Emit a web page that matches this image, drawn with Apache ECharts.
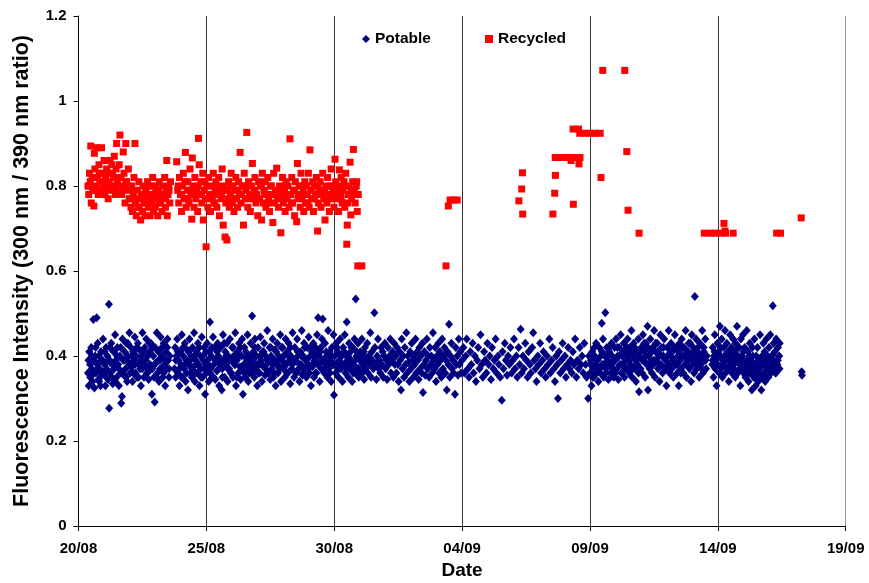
<!DOCTYPE html>
<html>
<head>
<meta charset="utf-8">
<script src="https://cdn.jsdelivr.net/npm/echarts@6/dist/echarts.min.js"></script>
<style>html,body{margin:0;padding:0;background:#fff}#c{width:869px;height:583px}</style>
</head>
<body>
<div id="c"></div>
<script>
// x values are days after 20/08; y values are the 300/390 nm fluorescence ratio
const dateLabels = ['20/08','25/08','30/08','04/09','09/09','14/09','19/09'];
const yTicks = [0,0.2,0.4,0.6,0.8,1,1.2];

const potableA = [[0.37,0.36],[0.40,0.33],[0.42,0.41],[0.45,0.38],[0.47,0.35],[0.50,0.42],[0.52,0.37],[0.55,0.34],[0.58,0.486],[0.60,0.39],[0.62,0.325],[0.65,0.40],[0.68,0.36],[0.71,0.49],[0.73,0.38],[0.75,0.43],[0.78,0.345],[0.80,0.40],[0.83,0.37],[0.86,0.33],[0.88,0.41],[0.91,0.355],[0.94,0.39],[0.96,0.44],[0.99,0.36],[1.02,0.38],[1.05,0.33],[1.08,0.42],[1.10,0.37],[1.13,0.40],[1.16,0.345],[1.19,0.522],[1.20,0.277],[1.22,0.39],[1.25,0.36],[1.28,0.43],[1.31,0.38],[1.34,0.335],[1.37,0.41],[1.40,0.37],[1.43,0.45],[1.46,0.39],[1.49,0.35],[1.52,0.42],[1.55,0.38],[1.58,0.33],[1.62,0.40],[1.65,0.36],[1.67,0.289],[1.70,0.305],[1.72,0.44],[1.75,0.39],[1.78,0.355],[1.81,0.41],[1.84,0.37],[1.87,0.43],[1.90,0.34],[1.93,0.40],[1.96,0.385],[1.99,0.455],[2.02,0.36],[2.05,0.42],[2.08,0.375],[2.11,0.34],[2.14,0.41],[2.17,0.39],[2.20,0.445],[2.23,0.36],[2.26,0.40],[2.29,0.35],[2.32,0.43],[2.35,0.38],[2.38,0.415],[2.41,0.37],[2.44,0.33],[2.47,0.40],[2.50,0.455],[2.53,0.385],[2.56,0.35],[2.59,0.42],[2.62,0.375],[2.65,0.44],[2.68,0.36],[2.71,0.40],[2.74,0.345],[2.77,0.41],[2.80,0.38],[2.83,0.43],[2.87,0.31],[2.89,0.37],[2.92,0.40],[2.95,0.35],[2.98,0.292],[3.00,0.42],[3.03,0.385],[3.06,0.455],[3.09,0.36],[3.12,0.41],[3.15,0.34],[3.18,0.39],[3.21,0.445],[3.24,0.37],[3.27,0.40],[3.30,0.35],[3.33,0.43],[3.36,0.38],[3.39,0.33],[3.42,0.41],[3.45,0.37],[3.48,0.44],[3.51,0.39],[3.54,0.35],[3.57,0.40]];

const potableB = [[3.75,0.37],[3.78,0.42],[3.80,0.35],[3.83,0.40],[3.86,0.44],[3.89,0.36],[3.92,0.39],[3.95,0.33],[3.98,0.41],[4.01,0.38],[4.04,0.45],[4.07,0.35],[4.10,0.40],[4.13,0.37],[4.16,0.43],[4.19,0.34],[4.22,0.39],[4.25,0.415],[4.28,0.32],[4.31,0.38],[4.34,0.44],[4.37,0.36],[4.40,0.40],[4.43,0.35],[4.46,0.42],[4.49,0.375],[4.52,0.455],[4.55,0.34],[4.58,0.39],[4.61,0.41],[4.64,0.36],[4.67,0.43],[4.70,0.38],[4.73,0.33],[4.76,0.40],[4.79,0.37],[4.82,0.445],[4.85,0.35],[4.88,0.39],[4.91,0.42],[4.95,0.31],[4.97,0.38],[5.00,0.36],[5.03,0.43],[5.06,0.39],[5.09,0.34],[5.12,0.41],[5.14,0.48],[5.17,0.37],[5.20,0.40],[5.23,0.35],[5.26,0.445],[5.29,0.38],[5.32,0.42],[5.35,0.345],[5.38,0.39],[5.41,0.365],[5.44,0.43],[5.47,0.40],[5.50,0.33],[5.53,0.38],[5.56,0.42],[5.60,0.32],[5.62,0.37],[5.65,0.45],[5.68,0.39],[5.71,0.35],[5.74,0.41],[5.77,0.38],[5.80,0.43],[5.83,0.34],[5.86,0.40],[5.89,0.37],[5.92,0.44],[5.95,0.36],[5.98,0.39],[6.01,0.42],[6.04,0.35],[6.07,0.40],[6.10,0.38],[6.13,0.455],[6.16,0.33],[6.19,0.39],[6.22,0.41],[6.25,0.36],[6.28,0.43],[6.31,0.375],[6.34,0.345],[6.37,0.40],[6.40,0.44],[6.43,0.31],[6.46,0.38],[6.49,0.42],[6.52,0.35],[6.55,0.395],[6.58,0.37],[6.61,0.45],[6.64,0.34],[6.67,0.40],[6.70,0.38],[6.73,0.43],[6.76,0.36],[6.79,0.494],[6.81,0.39],[6.84,0.41],[6.87,0.35],[6.90,0.44],[6.93,0.37],[6.96,0.40],[6.99,0.33],[7.02,0.42],[7.05,0.38],[7.08,0.36],[7.11,0.445],[7.14,0.39],[7.17,0.34],[7.20,0.41],[7.23,0.375],[7.26,0.43],[7.29,0.355],[7.32,0.40],[7.35,0.38],[7.38,0.46],[7.41,0.36],[7.44,0.39],[7.47,0.42],[7.50,0.345],[7.53,0.40],[7.56,0.37],[7.59,0.44],[7.62,0.35],[7.65,0.39],[7.68,0.415],[7.71,0.33],[7.74,0.38],[7.77,0.43],[7.80,0.36],[7.83,0.40],[7.86,0.375],[7.89,0.45],[7.92,0.34],[7.95,0.39],[7.98,0.42],[8.01,0.37],[8.04,0.40],[8.07,0.35],[8.10,0.44],[8.13,0.38],[8.16,0.41],[8.19,0.36],[8.22,0.43],[8.25,0.39],[8.28,0.335],[8.31,0.40],[8.34,0.37],[8.37,0.455],[8.40,0.385],[8.43,0.35],[8.46,0.42],[8.49,0.39],[8.52,0.36],[8.55,0.44],[8.58,0.40],[8.61,0.37],[8.64,0.34],[8.67,0.41],[8.70,0.38],[8.73,0.46],[8.76,0.355],[8.79,0.40],[8.82,0.43],[8.85,0.37],[8.88,0.39],[8.91,0.35],[8.94,0.42],[8.97,0.38],[9.00,0.445],[9.03,0.36],[9.06,0.40],[9.09,0.33],[9.12,0.41],[9.15,0.375],[9.18,0.43],[9.21,0.35],[9.24,0.39],[9.27,0.42],[9.30,0.36],[9.33,0.45],[9.36,0.38],[9.37,0.49],[9.40,0.40],[9.43,0.34],[9.46,0.41],[9.49,0.37],[9.52,0.44],[9.55,0.487],[9.58,0.39],[9.61,0.36],[9.64,0.43],[9.67,0.38],[9.70,0.40],[9.73,0.35],[9.76,0.46],[9.79,0.37],[9.82,0.41],[9.85,0.39],[9.88,0.34],[9.91,0.42],[9.94,0.38],[9.97,0.45],[9.99,0.308]];

const potableC = [[10.02,0.40],[10.05,0.36],[10.08,0.43],[10.11,0.38],[10.14,0.41],[10.17,0.35],[10.20,0.39],[10.23,0.44],[10.26,0.37],[10.29,0.40],[10.32,0.34],[10.35,0.42],[10.38,0.38],[10.41,0.45],[10.44,0.36],[10.47,0.40],[10.49,0.48],[10.52,0.39],[10.55,0.35],[10.58,0.43],[10.61,0.37],[10.64,0.41],[10.67,0.39],[10.70,0.34],[10.73,0.42],[10.76,0.38],[10.79,0.44],[10.82,0.36],[10.84,0.534],[10.87,0.40],[10.90,0.37],[10.93,0.43],[10.96,0.35],[10.99,0.39],[11.02,0.41],[11.05,0.365],[11.08,0.44],[11.11,0.38],[11.14,0.40],[11.17,0.345],[11.20,0.42],[11.23,0.37],[11.26,0.39],[11.29,0.43],[11.32,0.36],[11.35,0.40],[11.38,0.38],[11.41,0.455],[11.44,0.35],[11.47,0.41],[11.50,0.39],[11.53,0.37],[11.57,0.502],[11.59,0.42],[11.62,0.38],[11.65,0.345],[11.68,0.40],[11.71,0.44],[11.74,0.37],[11.77,0.39],[11.80,0.36],[11.83,0.42],[11.86,0.38],[11.89,0.41],[11.92,0.35],[11.95,0.40],[11.98,0.43],[12.01,0.37],[12.04,0.39],[12.07,0.345],[12.10,0.42],[12.13,0.38],[12.16,0.40],[12.19,0.44],[12.22,0.36],[12.25,0.39],[12.28,0.41],[12.31,0.35],[12.34,0.43],[12.37,0.38],[12.40,0.40],[12.43,0.36],[12.46,0.42],[12.49,0.38],[12.52,0.34],[12.55,0.41],[12.58,0.39],[12.61,0.32],[12.64,0.44],[12.67,0.37],[12.70,0.40],[12.73,0.35],[12.76,0.42],[12.79,0.38],[12.82,0.455],[12.85,0.36],[12.88,0.40],[12.91,0.385],[12.94,0.34],[12.97,0.41],[13.00,0.37],[13.03,0.43],[13.06,0.39],[13.09,0.35],[13.12,0.40],[13.15,0.38],[13.18,0.44],[13.21,0.36],[13.24,0.41],[13.27,0.39],[13.30,0.345],[13.33,0.42],[13.36,0.37],[13.39,0.40],[13.42,0.36],[13.45,0.43],[13.47,0.314],[13.50,0.38],[13.53,0.41],[13.56,0.355],[13.59,0.39],[13.62,0.44],[13.65,0.37],[13.68,0.40],[13.71,0.35],[13.74,0.42],[13.77,0.38],[13.80,0.40],[13.83,0.36],[13.86,0.455],[13.89,0.39],[13.92,0.37],[13.95,0.42],[13.98,0.34],[14.01,0.40],[14.04,0.38],[14.07,0.43],[14.10,0.36],[14.13,0.41],[14.16,0.39],[14.19,0.35],[14.22,0.44],[14.25,0.37],[14.28,0.40],[14.31,0.42],[14.34,0.36],[14.37,0.39],[14.40,0.32],[14.43,0.41],[14.46,0.38],[14.49,0.475],[14.52,0.35],[14.55,0.40],[14.58,0.43],[14.61,0.37],[14.64,0.39],[14.67,0.36],[14.72,0.31],[14.75,0.42],[14.78,0.38],[14.81,0.40],[14.84,0.355],[14.87,0.44],[14.90,0.38],[14.93,0.41],[14.96,0.36]];

const potableD = [[15.00,0.39],[15.05,0.42],[15.09,0.36],[15.14,0.40],[15.18,0.44],[15.23,0.37],[15.27,0.35],[15.32,0.41],[15.36,0.38],[15.41,0.43],[15.45,0.36],[15.50,0.40],[15.54,0.34],[15.59,0.39],[15.63,0.42],[15.68,0.37],[15.72,0.45],[15.77,0.38],[15.81,0.35],[15.86,0.41],[15.90,0.39],[15.95,0.36],[15.99,0.43],[16.04,0.38],[16.08,0.40],[16.13,0.345],[16.17,0.42],[16.22,0.37],[16.26,0.39],[16.31,0.44],[16.35,0.36],[16.40,0.40],[16.44,0.38],[16.49,0.35],[16.55,0.296],[16.58,0.41],[16.62,0.37],[16.67,0.43],[16.71,0.39],[16.76,0.355],[16.80,0.40],[16.85,0.38],[16.89,0.42],[16.94,0.36],[16.98,0.39],[17.03,0.44],[17.07,0.37],[17.12,0.40],[17.16,0.35],[17.21,0.42],[17.25,0.38],[17.29,0.463],[17.33,0.36],[17.38,0.40],[17.42,0.37],[17.47,0.43],[17.51,0.39],[17.56,0.35],[17.60,0.41],[17.65,0.38],[17.69,0.36],[17.74,0.42],[17.78,0.455],[17.82,0.39],[17.87,0.37],[17.91,0.34],[17.96,0.40],[18.00,0.38],[18.05,0.43],[18.09,0.36],[18.14,0.39],[18.18,0.41],[18.23,0.37],[18.27,0.35],[18.32,0.40],[18.36,0.38],[18.41,0.44],[18.45,0.36],[18.50,0.39],[18.54,0.42],[18.59,0.37],[18.63,0.34],[18.68,0.40],[18.72,0.38],[18.75,0.30],[18.79,0.41],[18.84,0.36],[18.88,0.39],[18.93,0.43],[18.97,0.37],[19.02,0.40],[19.06,0.35],[19.11,0.38],[19.15,0.42],[19.20,0.37],[19.24,0.39],[19.29,0.36],[19.33,0.41],[19.38,0.38],[19.42,0.44],[19.47,0.35],[19.51,0.39],[19.56,0.37],[19.60,0.42],[19.65,0.38],[19.69,0.40],[19.74,0.36],[19.78,0.43],[19.83,0.38],[19.87,0.35],[19.93,0.30],[19.96,0.40]];

const potableE = [[20.00,0.36],[20.03,0.39],[20.06,0.33],[20.09,0.41],[20.12,0.37],[20.15,0.35],[20.18,0.40],[20.21,0.38],[20.24,0.43],[20.27,0.36],[20.30,0.39],[20.33,0.34],[20.36,0.42],[20.39,0.37],[20.42,0.40],[20.46,0.477],[20.48,0.38],[20.51,0.44],[20.54,0.35],[20.58,0.40],[20.60,0.502],[20.63,0.37],[20.66,0.42],[20.69,0.39],[20.72,0.345],[20.75,0.41],[20.78,0.38],[20.81,0.36],[20.84,0.43],[20.87,0.40],[20.90,0.37],[20.93,0.35],[20.96,0.42],[20.99,0.39],[21.02,0.44],[21.05,0.37],[21.08,0.40],[21.11,0.345],[21.14,0.42],[21.17,0.38],[21.20,0.45],[21.23,0.36],[21.26,0.40],[21.29,0.38],[21.32,0.43],[21.35,0.35],[21.38,0.41],[21.41,0.39],[21.44,0.37],[21.47,0.44],[21.50,0.40],[21.53,0.36],[21.56,0.42],[21.59,0.38],[21.62,0.46],[21.65,0.35],[21.68,0.40],[21.71,0.43],[21.74,0.37],[21.77,0.39],[21.80,0.34],[21.83,0.41],[21.86,0.38],[21.89,0.44],[21.92,0.316],[21.95,0.40],[21.98,0.37],[22.01,0.42],[22.04,0.36],[22.07,0.45],[22.10,0.39],[22.13,0.41],[22.16,0.35],[22.19,0.43],[22.22,0.38],[22.25,0.47],[22.27,0.32],[22.30,0.40],[22.33,0.37],[22.36,0.44],[22.39,0.39],[22.42,0.36],[22.45,0.42],[22.48,0.38],[22.51,0.46],[22.54,0.35],[22.57,0.41],[22.60,0.39],[22.63,0.43],[22.66,0.37],[22.69,0.40],[22.72,0.34],[22.75,0.45],[22.78,0.38],[22.81,0.42],[22.84,0.36],[22.87,0.40],[22.90,0.44],[22.93,0.37],[22.96,0.39],[22.99,0.33],[23.02,0.42],[23.05,0.38],[23.08,0.46],[23.11,0.36],[23.14,0.40],[23.17,0.43],[23.20,0.37],[23.23,0.41],[23.26,0.35],[23.29,0.39],[23.32,0.45],[23.35,0.38],[23.38,0.42],[23.41,0.36],[23.44,0.40],[23.47,0.33],[23.50,0.43],[23.53,0.39],[23.56,0.37],[23.59,0.44],[23.62,0.40],[23.65,0.36],[23.68,0.42],[23.71,0.38],[23.74,0.46],[23.77,0.35],[23.80,0.41],[23.83,0.39],[23.86,0.43],[23.89,0.37],[23.92,0.40],[23.95,0.34],[23.98,0.45],[24.01,0.38],[24.04,0.42],[24.07,0.36],[24.10,0.54],[24.12,0.40],[24.15,0.44],[24.18,0.37],[24.21,0.41],[24.24,0.39],[24.27,0.35],[24.30,0.43],[24.33,0.38],[24.36,0.40],[24.39,0.46],[24.42,0.36],[24.45,0.42],[24.48,0.39],[24.51,0.44],[24.54,0.37],[24.57,0.40]];

const potableF = [[24.78,0.38],[24.80,0.42],[24.83,0.35],[24.85,0.40],[24.88,0.45],[24.90,0.37],[24.93,0.39],[24.95,0.33],[24.98,0.43],[25.00,0.38],[25.03,0.41],[25.05,0.36],[25.08,0.47],[25.10,0.40],[25.13,0.37],[25.15,0.44],[25.18,0.35],[25.20,0.39],[25.23,0.42],[25.25,0.38],[25.28,0.46],[25.30,0.36],[25.33,0.40],[25.35,0.43],[25.38,0.37],[25.40,0.41],[25.43,0.34],[25.45,0.39],[25.48,0.45],[25.50,0.38],[25.53,0.42],[25.55,0.36],[25.58,0.40],[25.60,0.44],[25.63,0.37],[25.65,0.41],[25.68,0.35],[25.70,0.43],[25.73,0.39],[25.75,0.47],[25.78,0.36],[25.80,0.40],[25.83,0.42],[25.85,0.38],[25.88,0.33],[25.90,0.44],[25.93,0.37],[25.95,0.40],[25.98,0.45],[26.00,0.36],[26.03,0.39],[26.05,0.42],[26.08,0.35],[26.10,0.38],[26.13,0.46],[26.15,0.37],[26.18,0.41],[26.20,0.34],[26.23,0.40],[26.25,0.43],[26.28,0.36],[26.30,0.39],[26.33,0.32],[26.35,0.42],[26.38,0.37],[26.40,0.35],[26.43,0.44],[26.45,0.38],[26.48,0.33],[26.50,0.40],[26.53,0.36],[26.55,0.42],[26.58,0.34],[26.60,0.39],[26.63,0.37],[26.65,0.45],[26.68,0.35],[26.70,0.32],[26.73,0.40],[26.75,0.38],[26.78,0.43],[26.80,0.36],[26.83,0.41],[26.85,0.34],[26.88,0.39],[26.90,0.44],[26.93,0.37],[26.95,0.40],[26.98,0.35],[27.00,0.42],[27.03,0.38],[27.05,0.45],[27.08,0.36],[27.10,0.40],[27.13,0.39],[27.15,0.518],[27.18,0.43],[27.20,0.37],[27.23,0.41],[27.25,0.36],[27.28,0.44],[27.30,0.39],[27.33,0.38],[27.35,0.42],[27.38,0.37],[27.40,0.40],[27.42,0.43],[28.28,0.363],[28.29,0.355]];

const potableG = [[0.39,0.39],[0.46,0.35],[0.53,0.40],[0.60,0.36],[0.67,0.42],[0.74,0.37],[0.81,0.34],[0.88,0.39],[0.95,0.36],[1.02,0.41],[1.09,0.35],[1.16,0.39],[1.23,0.42],[1.30,0.35],[1.37,0.38],[1.44,0.34],[1.51,0.40],[1.58,0.37],[1.65,0.42],[1.72,0.36],[1.79,0.39],[1.86,0.35],[1.93,0.43],[2.00,0.38],[2.07,0.40],[2.14,0.36],[2.21,0.38],[2.28,0.42],[2.35,0.35],[2.42,0.39],[2.49,0.37],[2.56,0.41],[2.63,0.39],[2.70,0.36],[2.77,0.43],[2.84,0.37],[2.91,0.42],[2.98,0.38],[3.05,0.35],[3.12,0.39],[3.19,0.37],[3.26,0.42],[3.33,0.36],[3.40,0.39],[3.47,0.42],[3.54,0.37]];

const potableH = [[3.81,0.39],[3.88,0.41],[3.95,0.37],[4.02,0.35],[4.09,0.42],[4.16,0.38],[4.23,0.36],[4.30,0.41],[4.37,0.39],[4.44,0.37],[4.51,0.40],[4.58,0.36],[4.65,0.38],[4.72,0.42],[4.79,0.35],[4.86,0.40],[4.93,0.37],[5.00,0.41],[5.07,0.38],[5.14,0.36],[5.21,0.42],[5.28,0.35],[5.35,0.39],[5.42,0.41],[5.49,0.37],[5.56,0.39],[5.63,0.35],[5.70,0.43],[5.77,0.40],[5.84,0.37],[5.91,0.39],[5.98,0.36],[6.05,0.42],[6.12,0.38],[6.19,0.35],[6.26,0.40],[6.33,0.42],[6.40,0.37],[6.47,0.36],[6.54,0.41],[6.61,0.39],[6.68,0.36],[6.75,0.40],[6.82,0.37],[6.89,0.42],[6.96,0.38],[7.03,0.36],[7.10,0.40],[7.17,0.38],[7.24,0.41],[7.31,0.37],[7.38,0.39],[7.45,0.36],[7.52,0.42],[7.59,0.38],[7.66,0.36],[7.73,0.41],[7.80,0.39],[7.87,0.37],[7.94,0.42],[8.01,0.40],[8.08,0.38],[8.15,0.36],[8.22,0.40],[8.29,0.42],[8.36,0.38],[8.43,0.39],[8.50,0.36],[8.57,0.41],[8.64,0.38],[8.71,0.40],[8.78,0.36],[8.85,0.42],[8.92,0.39],[8.99,0.37],[9.06,0.42],[9.13,0.38],[9.20,0.40],[9.27,0.36],[9.34,0.41],[9.41,0.38],[9.48,0.42],[9.55,0.39],[9.62,0.37],[9.69,0.41],[9.76,0.38],[9.83,0.36],[9.90,0.40],[9.97,0.38],[10.04,0.38],[10.11,0.42],[10.18,0.37],[10.25,0.40],[10.32,0.38],[10.39,0.41],[10.46,0.37],[10.53,0.40],[10.60,0.38],[10.67,0.42],[10.74,0.36],[10.81,0.39],[10.88,0.41],[10.95,0.37],[11.02,0.39],[11.09,0.36],[11.16,0.41],[11.23,0.39]];

const potableJ = [[20.02,0.38],[20.10,0.35],[20.17,0.42],[20.25,0.39],[20.32,0.37],[20.40,0.36],[20.47,0.41],[20.55,0.38],[20.62,0.36],[20.70,0.40],[20.77,0.42],[20.85,0.38],[20.92,0.39],[21.00,0.36],[21.07,0.42],[21.15,0.40],[21.22,0.38],[21.30,0.41],[21.37,0.37],[21.45,0.42],[21.52,0.39],[21.60,0.41],[21.67,0.37],[21.75,0.42],[21.82,0.39],[21.90,0.36],[21.97,0.41],[22.05,0.39],[22.12,0.43],[22.20,0.40],[22.27,0.42],[22.35,0.38],[22.42,0.41],[22.50,0.39],[22.57,0.43],[22.65,0.41],[22.72,0.38],[22.80,0.40],[22.87,0.42],[22.95,0.37],[23.02,0.40],[23.10,0.38],[23.17,0.41],[23.25,0.39],[23.32,0.42],[23.40,0.38],[23.47,0.41],[23.55,0.36],[23.62,0.42],[23.70,0.40],[23.77,0.38],[23.85,0.41],[23.92,0.43],[24.00,0.39],[24.07,0.41],[24.15,0.38],[24.22,0.42],[24.30,0.40],[24.37,0.37],[24.45,0.41],[24.52,0.39],[24.80,0.39],[24.87,0.41],[24.95,0.37],[25.02,0.40],[25.10,0.42],[25.17,0.38],[25.25,0.40],[25.32,0.39],[25.40,0.37],[25.47,0.41],[25.55,0.39],[25.62,0.38],[25.70,0.40],[25.77,0.42],[25.85,0.37],[25.92,0.39],[26.00,0.41],[26.07,0.37],[26.15,0.39],[26.22,0.36],[26.30,0.38],[26.37,0.40],[26.45,0.35],[26.52,0.38],[26.60,0.36],[26.67,0.39],[26.75,0.35],[26.82,0.38],[26.90,0.36],[26.97,0.39],[27.05,0.37],[27.12,0.40],[27.20,0.38],[27.27,0.36],[27.35,0.39],[27.41,0.37]];

const recycledA = [[0.37,0.80],[0.40,0.78],[0.43,0.83],[0.46,0.81],[0.48,0.894],[0.50,0.76],[0.53,0.82],[0.56,0.79],[0.60,0.753],[0.62,0.877],[0.64,0.84],[0.68,0.80],[0.71,0.89],[0.74,0.82],[0.77,0.78],[0.80,0.85],[0.83,0.81],[0.87,0.79],[0.90,0.89],[0.93,0.83],[0.96,0.80],[1.00,0.86],[1.03,0.78],[1.06,0.82],[1.10,0.84],[1.13,0.80],[1.16,0.77],[1.20,0.83],[1.23,0.86],[1.27,0.80],[1.30,0.85],[1.33,0.79],[1.37,0.82],[1.40,0.87],[1.44,0.78],[1.47,0.84],[1.49,0.90],[1.52,0.81],[1.56,0.79],[1.59,0.85],[1.62,0.92],[1.66,0.82],[1.69,0.78],[1.73,0.80],[1.75,0.88],[1.78,0.83],[1.82,0.76],[1.85,0.90],[1.88,0.81],[1.92,0.79],[1.95,0.84],[1.98,0.80]];

const recycledB = [[2.02,0.77],[2.05,0.75],[2.08,0.80],[2.11,0.74],[2.14,0.78],[2.17,0.82],[2.21,0.90],[2.23,0.76],[2.26,0.73],[2.30,0.79],[2.33,0.75],[2.36,0.81],[2.40,0.77],[2.43,0.72],[2.46,0.78],[2.50,0.74],[2.53,0.80],[2.56,0.76],[2.60,0.73],[2.63,0.79],[2.66,0.77],[2.70,0.81],[2.73,0.75],[2.76,0.78],[2.80,0.73],[2.83,0.80],[2.86,0.76],[2.90,0.82],[2.93,0.74],[2.96,0.78],[3.00,0.75],[3.03,0.80],[3.06,0.77],[3.10,0.73],[3.13,0.79],[3.16,0.81],[3.20,0.76],[3.23,0.78],[3.27,0.74],[3.30,0.80],[3.33,0.77],[3.37,0.82],[3.40,0.75],[3.43,0.79],[3.45,0.86],[3.47,0.73],[3.50,0.78],[3.53,0.80],[3.57,0.76],[3.60,0.81]];

const recycledC = [[3.84,0.857],[3.88,0.79],[3.92,0.76],[3.95,0.82],[3.99,0.78],[4.03,0.74],[4.06,0.80],[4.10,0.83],[4.13,0.77],[4.18,0.879],[4.21,0.75],[4.25,0.79],[4.28,0.81],[4.32,0.76],[4.36,0.84],[4.40,0.78],[4.43,0.722],[4.45,0.866],[4.48,0.80],[4.52,0.75],[4.55,0.82],[4.59,0.77],[4.62,0.79],[4.66,0.74],[4.69,0.912],[4.72,0.85],[4.75,0.78],[4.79,0.81],[4.82,0.76],[4.86,0.83],[4.88,0.72],[4.92,0.79],[4.96,0.77],[4.99,0.657],[5.02,0.80],[5.06,0.75],[5.09,0.82],[5.13,0.78],[5.16,0.74],[5.20,0.80],[5.23,0.77],[5.27,0.83],[5.30,0.76],[5.34,0.79],[5.37,0.81],[5.41,0.75],[5.44,0.78],[5.48,0.82],[5.51,0.73],[5.55,0.79],[5.58,0.77],[5.62,0.84],[5.66,0.708],[5.70,0.80],[5.73,0.68],[5.76,0.76],[5.80,0.673],[5.83,0.79],[5.87,0.81],[5.90,0.75],[5.94,0.78],[5.97,0.83],[6.01,0.76],[6.04,0.80],[6.08,0.74],[6.11,0.79],[6.15,0.82],[6.18,0.77],[6.22,0.75],[6.26,0.81],[6.29,0.78],[6.32,0.879],[6.36,0.76],[6.40,0.80],[6.45,0.708],[6.48,0.83],[6.52,0.77],[6.55,0.79],[6.58,0.926],[6.62,0.75],[6.65,0.81],[6.69,0.78],[6.72,0.74],[6.76,0.80],[6.80,0.853],[6.83,0.77],[6.87,0.79],[6.90,0.82],[6.94,0.76],[6.97,0.78],[7.01,0.73],[7.04,0.81],[7.08,0.77],[7.12,0.80],[7.16,0.72],[7.19,0.83],[7.23,0.76],[7.26,0.79],[7.30,0.81],[7.33,0.75],[7.37,0.78],[7.40,0.82],[7.44,0.77],[7.47,0.74],[7.51,0.80],[7.54,0.78],[7.60,0.714],[7.63,0.83],[7.66,0.76],[7.70,0.79],[7.75,0.842],[7.78,0.77],[7.82,0.75],[7.86,0.80],[7.91,0.69],[7.94,0.78],[7.98,0.82],[8.01,0.76],[8.05,0.79],[8.08,0.74],[8.12,0.81],[8.16,0.77],[8.19,0.80],[8.23,0.75],[8.27,0.911],[8.30,0.78],[8.34,0.82],[8.37,0.76],[8.41,0.79],[8.45,0.73],[8.48,0.81],[8.53,0.716],[8.56,0.853],[8.60,0.78],[8.63,0.80],[8.67,0.75],[8.70,0.83],[8.74,0.77],[8.78,0.79],[8.81,0.74],[8.85,0.81],[8.88,0.76],[8.92,0.80],[8.95,0.78],[8.99,0.83],[9.02,0.75],[9.05,0.885],[9.09,0.79],[9.12,0.77],[9.16,0.81],[9.19,0.74],[9.23,0.80],[9.27,0.78],[9.30,0.82],[9.35,0.694],[9.38,0.76],[9.41,0.79],[9.45,0.81],[9.48,0.75],[9.52,0.78],[9.55,0.83],[9.59,0.77],[9.64,0.72],[9.67,0.80],[9.71,0.76],[9.74,0.82],[9.78,0.78],[9.81,0.74],[9.85,0.80],[9.88,0.84],[9.92,0.77],[9.95,0.79],[9.99,0.75],[10.03,0.863],[10.06,0.81],[10.10,0.77],[10.13,0.80],[10.17,0.74],[10.20,0.838],[10.24,0.78],[10.27,0.82],[10.31,0.76],[10.34,0.79],[10.38,0.81],[10.41,0.75],[10.45,0.83],[10.49,0.663],[10.51,0.708],[10.54,0.78],[10.58,0.80],[10.62,0.856],[10.65,0.732],[10.68,0.77],[10.72,0.81],[10.75,0.886],[10.79,0.79],[10.82,0.76],[10.86,0.80],[10.90,0.74],[10.94,0.78],[10.92,0.612],[11.08,0.612]];

const recycledD = [[14.37,0.612],[14.46,0.753],[14.53,0.767],[14.67,0.767],[14.81,0.767],[17.22,0.765],[17.33,0.793],[17.36,0.831],[17.37,0.734],[18.55,0.734],[18.62,0.783],[18.65,0.825],[18.64,0.867],[18.83,0.867],[19.03,0.867],[19.22,0.867],[19.26,0.86],[19.35,0.757],[19.42,0.867],[19.57,0.852],[19.61,0.867],[19.34,0.934],[19.55,0.934],[19.60,0.924],[19.80,0.924],[20.00,0.924],[20.20,0.924],[20.40,0.924],[20.43,0.82],[20.50,1.072],[21.36,1.072],[21.44,0.881],[21.49,0.743],[21.92,0.689],[24.47,0.689],[24.70,0.689],[24.90,0.689],[25.10,0.689],[25.24,0.712],[25.28,0.694],[25.30,0.689],[25.60,0.689],[27.30,0.689],[27.45,0.689],[28.26,0.725]];

const recycledE = [[0.42,0.80],[0.55,0.82],[0.68,0.79],[0.81,0.83],[0.94,0.81],[1.07,0.79],[1.20,0.81],[1.33,0.83],[1.46,0.80],[1.59,0.82],[1.72,0.79],[1.85,0.81],[1.98,0.77],[2.11,0.79],[2.24,0.77],[2.37,0.75],[2.50,0.78],[2.63,0.76],[2.76,0.80],[2.89,0.77],[3.02,0.79],[3.15,0.76],[3.28,0.78],[3.41,0.77],[3.54,0.79],[3.90,0.80],[4.03,0.78],[4.16,0.81],[4.29,0.77],[4.42,0.79],[4.55,0.78],[4.68,0.80],[4.81,0.78],[4.94,0.81],[5.07,0.77],[5.20,0.78],[5.33,0.76],[5.46,0.80],[5.59,0.78],[5.72,0.79],[5.85,0.77],[5.98,0.80],[6.11,0.77],[6.24,0.79],[6.37,0.78],[6.50,0.80],[6.63,0.77],[6.76,0.78],[6.89,0.79],[7.02,0.77],[7.15,0.80],[7.28,0.78],[7.41,0.76],[7.54,0.80],[7.67,0.78],[7.80,0.79],[7.93,0.77],[8.06,0.80],[8.19,0.78],[8.32,0.76],[8.45,0.79],[8.58,0.77],[8.71,0.80],[8.84,0.78],[8.97,0.76],[9.10,0.79],[9.23,0.77],[9.36,0.80],[9.49,0.78],[9.62,0.79],[9.75,0.77],[9.88,0.80],[10.01,0.78],[10.14,0.79],[10.27,0.77],[10.40,0.80],[10.53,0.76],[10.66,0.79],[10.79,0.78],[10.88,0.81]];

const potable = [].concat(potableA, potableB, potableC, potableD, potableE, potableF, potableG, potableH, potableJ);
const recycled = [].concat(recycledA, recycledB, recycledC, recycledD, recycledE);

const chart = echarts.init(document.getElementById('c'), null, {renderer: 'canvas'});
const FONT = 'Liberation Sans, Arial, sans-serif';
chart.setOption({
  animation: false,
  backgroundColor: '#ffffff',
  grid: {left: 78.5, right: 23.3, top: 16, bottom: 57, outerBoundsMode: 'none', containLabel: false},
  legend: {
    left: 357, top: 26,
    itemWidth: 8, itemHeight: 8, itemGap: 54,
    textStyle: {fontFamily: FONT, fontWeight: 'bold', fontSize: 15.5, color: '#000'},
    data: [{name: 'Potable', icon: 'diamond'}, {name: 'Recycled', icon: 'rect'}]
  },
  xAxis: {
    type: 'value', min: 0, max: 30, interval: 5,
    name: 'Date', nameLocation: 'middle', nameGap: 35,
    nameTextStyle: {fontFamily: FONT, fontWeight: 'bold', fontSize: 19, color: '#000'},
    axisLine: {show: true, onZero: false, lineStyle: {color: '#000', width: 1}},
    axisTick: {show: true, inside: false, length: 5, lineStyle: {color: '#000'}},
    axisLabel: {
      margin: 15, fontFamily: FONT, fontWeight: 'bold', fontSize: 15, color: '#000',
      formatter: v => dateLabels[Math.round(v / 5)] || ''
    },
    splitLine: {show: true, lineStyle: {color: ['#333','#333','#333','#333','#333','#333','#999'], width: 1}}
  },
  yAxis: {
    type: 'value', min: 0, max: 1.2, interval: 0.2,
    name: 'Fluorescence Intensity (300 nm / 390 nm ratio)', nameLocation: 'middle', nameGap: 45,
    nameTextStyle: {fontFamily: FONT, fontWeight: 'bold', fontSize: 21.5, color: '#000'},
    axisLine: {show: true, lineStyle: {color: '#000', width: 1}},
    axisTick: {show: true, inside: false, length: 5, lineStyle: {color: '#000'}},
    axisLabel: {
      margin: 12, fontFamily: FONT, fontWeight: 'bold', fontSize: 15, color: '#000',
      formatter: v => { const t = yTicks.find(k => Math.abs(k - v) < 1e-6); return t === undefined ? '' : String(t); }
    },
    splitLine: {show: false}
  },
  series: [
    {name: 'Potable', type: 'scatter', symbol: 'diamond', symbolSize: [8, 9],
     itemStyle: {color: '#000080', opacity: 1}, data: potable},
    {name: 'Recycled', type: 'scatter', symbol: 'rect', symbolSize: 7,
     itemStyle: {color: '#ff0000', opacity: 1}, data: recycled}
  ]
});
</script>
</body>
</html>
